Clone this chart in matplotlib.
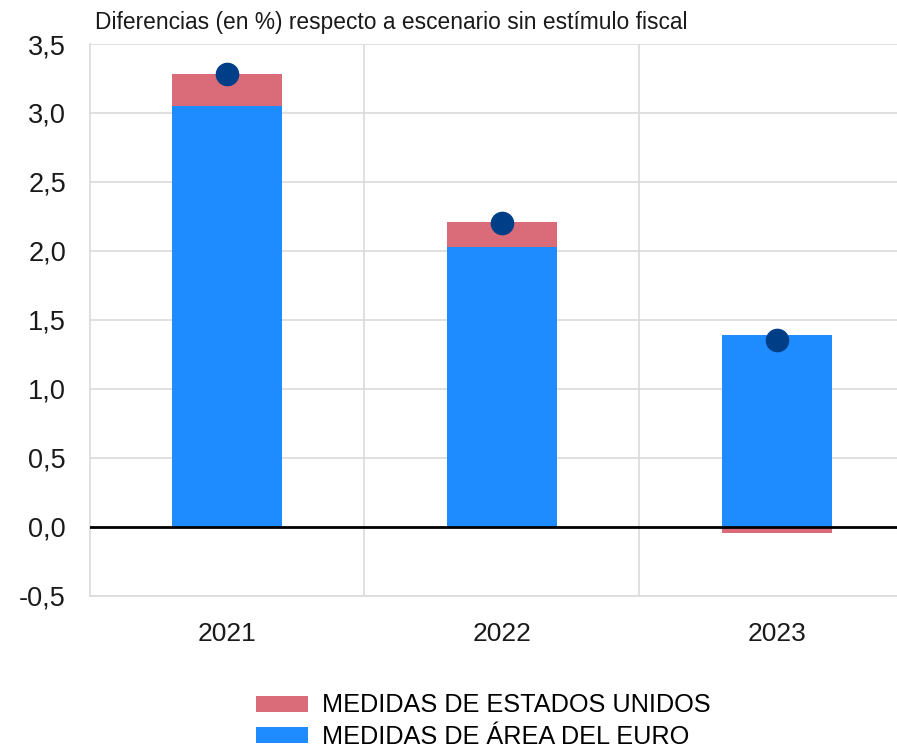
import matplotlib
matplotlib.use("Agg")
import matplotlib.pyplot as plt
from matplotlib.patches import Patch
import numpy as np

plt.rcParams['font.family'] = ['Liberation Sans', 'DejaVu Sans']

years = ["2021", "2022", "2023"]
euro_area = [3.05, 2.03, 1.39]
us_measures = [0.23, 0.18, -0.045]
total = [3.28, 2.205, 1.35]

yticks = [-0.5, 0.0, 0.5, 1.0, 1.5, 2.0, 2.5, 3.0, 3.5]
ytick_labels = ["-0,5", "0,0", "0,5", "1,0", "1,5", "2,0", "2,5", "3,0", "3,5"]

c_red = "#D96C78"
c_blue = "#1E8CFF"
c_dot = "#003F87"

fig = plt.figure(figsize=(8.97, 7.47), dpi=100)
ax = fig.add_axes([89.5 / 897, 1 - 595.5 / 747, 1 - 89.5 / 897, (595.5 - 44) / 747])

x = np.arange(len(years))
w = 0.4
ax.bar(x, euro_area, width=w, color=c_blue, zorder=3)
us_bottom = [e if u >= 0 else 0 for e, u in zip(euro_area, us_measures)]
ax.bar(x, us_measures, width=w, bottom=us_bottom, color=c_red, zorder=3)
ax.plot(x, total, linestyle="none", marker="o", markersize=16, color=c_dot, zorder=5)

ax.axhline(0, color="black", linewidth=2, zorder=4)

ax.set_ylim(-0.5, 3.5)
ax.set_xlim(-0.5, 2.438)
ax.set_yticks(yticks)
ax.set_yticklabels(ytick_labels, fontsize=19.5)
ax.set_xticks(x)
ax.set_xticklabels(years, fontsize=19)
ax.tick_params(axis="both", length=0, colors="#1a1a1a")
ax.tick_params(axis="y", pad=17)
ax.tick_params(axis="x", pad=19)

ax.set_xticks([0.5, 1.5], minor=True)
ax.grid(axis="y", which="major", color="#DADADA", linewidth=1.2, zorder=0)
ax.grid(axis="x", which="minor", color="#DADADA", linewidth=1.2, zorder=0)
ax.tick_params(axis="x", which="minor", length=0)

for side in ["top", "right"]:
    ax.spines[side].set_visible(False)
ax.spines["left"].set_color("#DADADA")
ax.spines["bottom"].set_color("#DADADA")
ax.spines["left"].set_linewidth(1.2)
ax.spines["bottom"].set_linewidth(1.2)

fig.text(95 / 897, 1 - 22 / 747, "Diferencias (en %) respecto a escenario sin estímulo fiscal",
         fontsize=16.4, color="#1a1a1a", va="center", ha="left")

handles = [Patch(facecolor=c_red, label="MEDIDAS DE ESTADOS UNIDOS"),
           Patch(facecolor=c_blue, label="MEDIDAS DE ÁREA DEL EURO")]
fig.legend(handles=handles, loc="center", bbox_to_anchor=(483 / 897, 1 - 721 / 747),
           frameon=False, fontsize=18.2, handlelength=2.08, handleheight=0.6,
           labelspacing=0.28, handletextpad=0.52, borderpad=0)

fig.savefig("out.png", dpi=100)
